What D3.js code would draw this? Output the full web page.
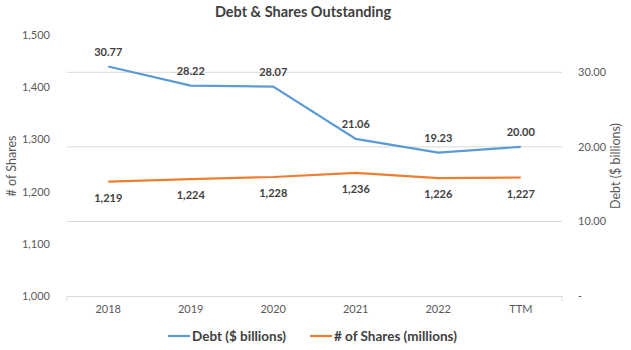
<!DOCTYPE html>
<html><head><meta charset="utf-8">
<script src="https://cdn.jsdelivr.net/npm/d3@7"></script>
<style>body{margin:0;background:#fff}svg{display:block;font-family:Lato,"Open Sans",sans-serif}</style>
</head><body><svg id="c" width="631" height="350"></svg>
<script>
const categories = ["2018","2019","2020","2021","2022","TTM"];
const debt = [30.77, 28.22, 28.07, 21.06, 19.23, 20.00];
const shares = [1219, 1224, 1228, 1236, 1226, 1227];
const leftTicks = [1000,1100,1200,1300,1400,1500];
const rightTicks = [0,10,20,30];

const svg = d3.select("#c");
const L = 67, R = 562, T = 35, B = 296;
const x = d3.scaleBand().domain(categories).range([L, R]);
const yL = d3.scaleLinear().domain([1000,1500]).range([B,T]);
const yR = d3.scaleLinear().domain([0,35]).range([B,T]);
const cx = d => x(d) + x.bandwidth()/2;

// gridlines (from right axis)
svg.append("g").selectAll("line").data(rightTicks.filter(d=>d>0)).join("line")
  .attr("x1",L).attr("x2",R).attr("y1",d=>yR(d)).attr("y2",d=>yR(d))
  .attr("stroke","#d9d9d9").attr("stroke-width",1);

// x axis
const xa = svg.append("g").attr("transform",`translate(0,${B})`).call(d3.axisBottom(x).tickSize(0).tickPadding(9));
xa.select(".domain").attr("stroke","#d9d9d9");
xa.selectAll("text").attr("fill","#595959").style("font-size","11px").style("font-family","Lato");
svg.append("g").selectAll("line").data([L,R]).join("line")
  .attr("x1",d=>d).attr("x2",d=>d).attr("y1",B).attr("y2",B+5).attr("stroke","#d9d9d9");

// left axis
const la = svg.append("g").attr("transform",`translate(${L-14},0)`)
  .call(d3.axisLeft(yL).tickValues(leftTicks).tickFormat(d3.format(",")).tickSize(0));
la.select(".domain").remove();
la.selectAll("text").attr("fill","#595959").style("font-size","11px").style("font-family","Lato");

// right axis
const ra = svg.append("g").attr("transform",`translate(${R+13},0)`)
  .call(d3.axisRight(yR).tickValues(rightTicks).tickFormat(d=>d===0?"-":d3.format(".2f")(d)).tickSize(0));
ra.select(".domain").remove();
ra.selectAll("text").attr("fill","#595959").style("font-size","11px").style("font-family","Lato");

// axis titles
svg.append("text").attr("transform","translate(16,166) rotate(-90)").attr("text-anchor","middle")
  .attr("fill","#595959").style("font-size","12.5px").text("# of Shares");
svg.append("text").attr("transform","translate(620,166) rotate(-90)").attr("text-anchor","middle")
  .attr("fill","#595959").style("font-size","12.5px").text("Debt ($ billions)");

// title
svg.append("text").attr("x",303).attr("y",17).attr("text-anchor","middle")
  .attr("fill","#404040").style("font-size","14.5px").style("font-weight","bold").text("Debt & Shares Outstanding");

// lines
svg.append("path").datum(debt.map((v,i)=>[cx(categories[i]),yR(v)]))
  .attr("d",d3.line()).attr("fill","none").attr("stroke","#5b9bd5").attr("stroke-width",2.2);
svg.append("path").datum(shares.map((v,i)=>[cx(categories[i]),yL(v)]))
  .attr("d",d3.line()).attr("fill","none").attr("stroke","#ed7d31").attr("stroke-width",2.2);

// data labels
svg.append("g").selectAll("text").data(debt).join("text")
  .attr("x",(d,i)=>cx(categories[i])).attr("y",d=>yR(d)-11).attr("text-anchor","middle")
  .attr("fill","#404040").style("font-size","11px").style("font-weight","bold").text(d=>d3.format(".2f")(d));
svg.append("g").selectAll("text").data(shares).join("text")
  .attr("x",(d,i)=>cx(categories[i])).attr("y",d=>yL(d)+20).attr("text-anchor","middle")
  .attr("fill","#404040").style("font-size","11px").style("font-weight","bold").text(d=>d3.format(",")(d));

// legend
const leg = [{t:"Debt ($ billions)",c:"#5b9bd5",x:168},{t:"# of Shares (millions)",c:"#ed7d31",x:310}];
const lg = svg.append("g").selectAll("g").data(leg).join("g").attr("transform",d=>`translate(${d.x},336)`);
lg.append("line").attr("x1",0).attr("x2",22).attr("stroke",d=>d.c).attr("stroke-width",2.2);
lg.append("text").attr("x",24).attr("y",4.5).attr("fill","#404040").style("font-size","13.5px").style("font-weight","bold").text(d=>d.t);
</script></body></html>
